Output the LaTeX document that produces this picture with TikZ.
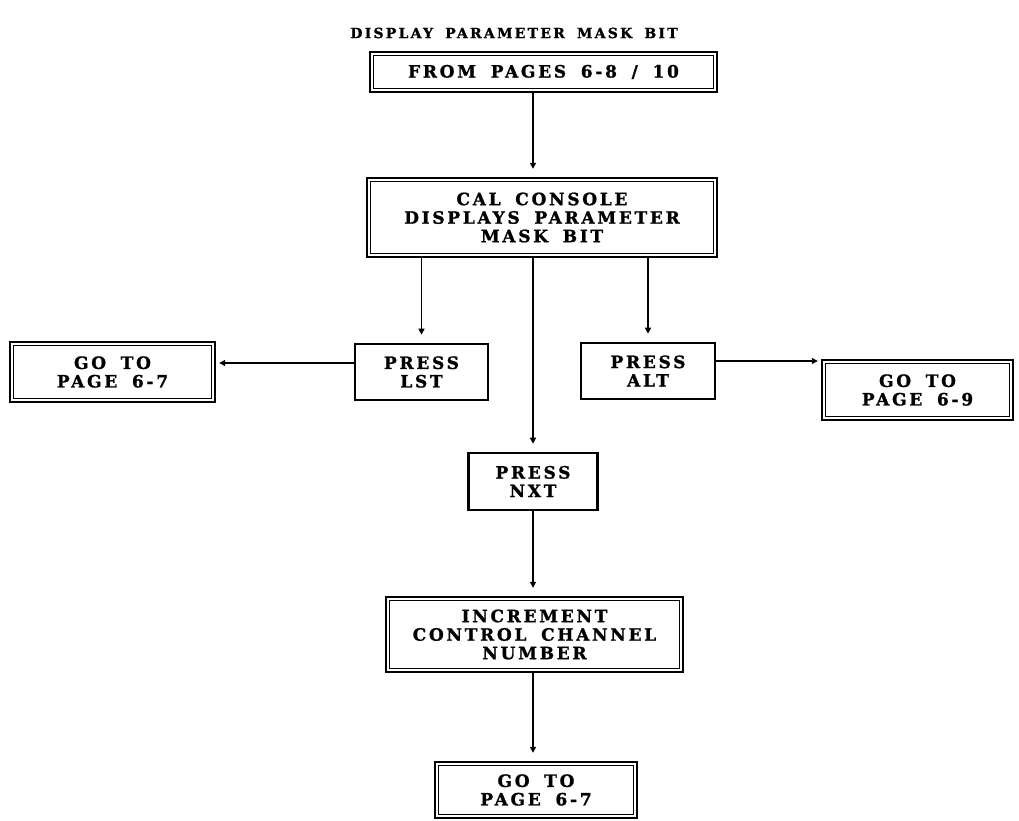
\documentclass[tikz,border=0pt]{standalone}
\usepackage{fontspec}
\newfontfamily\boxfont[LetterSpace=16,WordSpace=1.7,BoldFeatures={FakeBold=1.2}]{DejaVu Serif}
\usetikzlibrary{arrows.meta}
\tikzset{
  txt/.style={font=\boxfont\bfseries\fontsize{17}{18.5}\selectfont, align=center, inner sep=0pt},
  dbox/.style={txt, draw, line width=2.4pt,
    path picture={\draw[line width=1pt]
      ([shift={(3.8pt,-3.8pt)}]path picture bounding box.north west) rectangle
      ([shift={(-3.8pt,3.8pt)}]path picture bounding box.south east);}},
  sbox/.style={txt, draw, line width=2.6pt},
  arr/.style={line width=1.4pt, -{Triangle[length=6pt,width=6pt]}, shorten >=8pt},
  harr/.style={line width=1.3pt, -{Triangle[length=6pt,width=6pt]}, shorten >=3pt},
}
\begin{document}
\begin{tikzpicture}[x=1pt,y=-1pt]
\useasboundingbox (0,0) rectangle (1019,821);
\node[txt, font=\boxfont\bfseries\fontsize{14}{16}\selectfont] (title) at (514,33) {DISPLAY PARAMETER MASK BIT};
\node[dbox, minimum width=347pt, minimum height=40pt] (from) at (543.5,72) {FROM PAGES 6-8 / 10};
\node[dbox, minimum width=350pt, minimum height=79pt] (cal) at (542,217.5) {CAL CONSOLE\\DISPLAYS PARAMETER\\MASK BIT};
\node[sbox, minimum width=133pt, minimum height=56pt] (lst) at (421.5,372) {PRESS\\LST};
\node[sbox, minimum width=134pt, minimum height=56pt] (alt) at (648,371) {PRESS\\ALT};
\node[dbox, minimum width=205pt, minimum height=60pt] (goa) at (112.5,372) {GO TO\\PAGE 6-7};
\node[dbox, minimum width=191pt, minimum height=60pt] (gob) at (917.5,390) {GO TO\\PAGE 6-9};
\node[sbox, minimum width=129pt, minimum height=57pt] (nxt) at (533,481.5) {PRESS\\NXT};
\node[dbox, minimum width=297pt, minimum height=75pt] (inc) at (534.5,634.5) {INCREMENT\\CONTROL CHANNEL\\NUMBER};
\node[dbox, minimum width=202pt, minimum height=56pt] (goc) at (536,790) {GO TO\\PAGE 6-7};

\draw[arr] (from.south -| nxt) -- (cal.north -| nxt);
\draw[arr] (cal.south -| lst) -- (lst.north);
\draw[arr] (cal.south -| alt) -- (alt.north);
\draw[arr] (cal.south -| nxt) -- (nxt.north);
\draw[harr] ([yshift=9pt]lst.west) -- ([yshift=9pt]lst.west -| goa.east);
\draw[harr] ([yshift=10pt]alt.east) -- ([yshift=10pt]alt.east -| gob.west);
\draw[arr] (nxt.south) -- (inc.north -| nxt);
\draw[arr] (inc.south -| nxt) -- (goc.north -| nxt);
\end{tikzpicture}
\end{document}
